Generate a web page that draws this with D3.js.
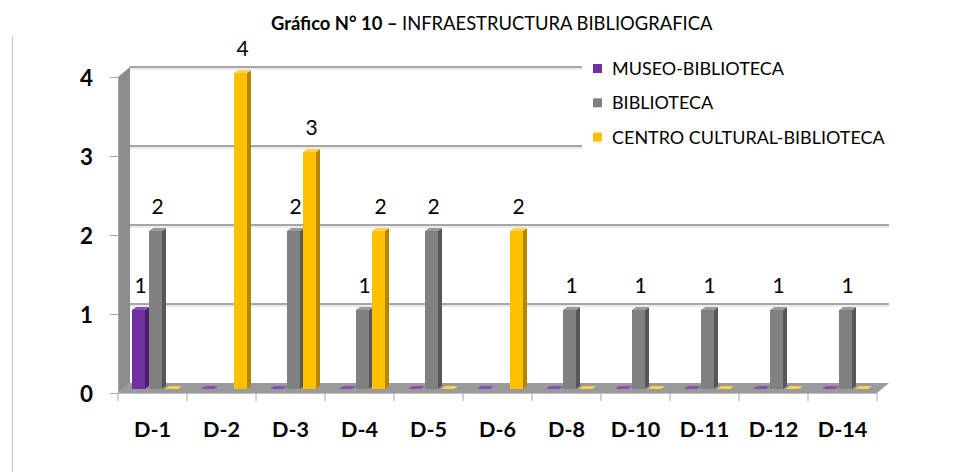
<!DOCTYPE html>
<meta charset="utf-8">
<script src="https://d3js.org/d3.v7.min.js"></script>
<style>
body { margin: 0; background: #fff; }
text { font-family: Lato, "Open Sans", sans-serif; }
</style>
<body>
<script>

// data
var categories = ["D-1", "D-2", "D-3", "D-4", "D-5", "D-6", "D-8", "D-10", "D-11", "D-12", "D-14"];
var seriesNames = ["MUSEO-BIBLIOTECA", "BIBLIOTECA", "CENTRO CULTURAL-BIBLIOTECA"];
var museo      = [1, 0, 0, 0, 0, 0, 0, 0, 0, 0, 0];
var biblioteca = [2, 0, 2, 1, 2, 0, 1, 1, 1, 1, 1];
var centro     = [0, 4, 3, 2, 0, 2, 0, 0, 0, 0, 0];
var yTicks = [0, 1, 2, 3, 4];

var colors = ["#7030a0", "#808080", "#ffc000"];
var sideColors = ["#4a1f6b", "#575757", "#b38600"];
var topColors = ["#8a4dba", "#9a9a9a", "#ffd24d"];

var width = 953, height = 472;
var dx = 12, dy = -10;   // 3d depth offset

var svg = d3.select("body").append("svg")
  .attr("width", width)
  .attr("height", height);

// scale a text's font so it spans the wanted width (Calibri isn't available)
function fitWidth(sel, target) {
  var w = sel.node().getComputedTextLength();
  var fs = parseFloat(sel.style("font-size"));
  sel.style("font-size", (fs * target / w) + "px");
}

var xScale = d3.scaleBand()
  .domain(categories)
  .range([118, 877]);

var yScale = d3.scaleLinear()
  .domain([0, 4])
  .range([393, 77]);

// chart border line on the left
svg.append("line")
  .attr("x1", 12.5).attr("x2", 12.5)
  .attr("y1", 37).attr("y2", 472)
  .attr("stroke", "#bfbfbf");

// title
var title = svg.append("text")
  .attr("x", 271)
  .attr("y", 30)
  .style("font-size", "16px");
title.append("tspan").style("font-weight", "bold").text("Gráfico N° 10 – ");
title.append("tspan").text("INFRAESTRUCTURA BIBLIOGRAFICA");
fitWidth(title, 442);

var x0 = xScale.range()[0], x1 = xScale.range()[1];

// left wall
svg.append("path")
  .attr("d", d3.line()([[x0, yScale(0)], [x0, yScale(4)], [x0 + dx, yScale(4) + dy], [x0 + dx, yScale(0) + dy]]))
  .attr("fill", "#8c8c8c");

// floor
svg.append("path")
  .attr("d", d3.line()([[x0, yScale(0)], [x1, yScale(0)], [x1 + dx, yScale(0) + dy], [x0 + dx, yScale(0) + dy]]))
  .attr("fill", "#9a9a9a");

// back wall gridlines
var gridVals = yTicks.filter(function(d) { return d > 0; });
svg.selectAll(".gridshadow")
  .data(gridVals)
  .enter().append("line")
  .attr("class", "gridshadow")
  .attr("x1", x0 + dx)
  .attr("x2", x1 + dx)
  .attr("y1", function(d) { return yScale(d) + dy + 2; })
  .attr("y2", function(d) { return yScale(d) + dy + 2; })
  .attr("stroke", "#e3e3e3")
  .attr("stroke-width", 1.5);
svg.selectAll(".grid")
  .data(gridVals)
  .enter().append("line")
  .attr("class", "grid")
  .attr("x1", x0 + dx)
  .attr("x2", x1 + dx)
  .attr("y1", function(d) { return yScale(d) + dy; })
  .attr("y2", function(d) { return yScale(d) + dy; })
  .attr("stroke", "#a6a6a6")
  .attr("stroke-width", 2);

// y axis
var yAxis = d3.axisLeft(yScale).tickValues(yTicks).tickSize(8).tickFormat(d3.format("d"));
var yAxisGroup = svg.append("g")
  .attr("transform", "translate(" + x0 + ",0)")
  .call(yAxis);
yAxisGroup.select(".domain").attr("stroke", "#a6a6a6");
yAxisGroup.selectAll(".tick line").attr("stroke", "#a6a6a6");
yAxisGroup.selectAll("text")
  .attr("x", -25)
  .attr("dy", "0.36em")
  .style("font-size", "20px")
  .style("font-weight", "bold")
  .attr("fill", "#000");
fitWidth(yAxisGroup.select(".tick:last-of-type text"), 13);
yAxisGroup.selectAll("text").style("font-size", yAxisGroup.select(".tick:last-of-type text").style("font-size"));

// x axis
var xAxis = d3.axisBottom(xScale).tickSize(0);
var xAxisGroup = svg.append("g")
  .attr("transform", "translate(0," + yScale(0) + ")")
  .call(xAxis);
xAxisGroup.select(".domain").attr("stroke", "#bfbfbf");
xAxisGroup.selectAll("text")
  .attr("y", 36)
  .attr("dy", "0.36em")
  .style("font-size", "20px")
  .style("font-weight", "bold")
  .attr("fill", "#000");
var firstX = xAxisGroup.select(".tick text");
fitWidth(firstX, 37);
xAxisGroup.selectAll("text").style("font-size", firstX.style("font-size"));
svg.selectAll(".xtick")
  .data(categories.concat(["end"]))
  .enter().append("line")
  .attr("class", "xtick")
  .attr("x1", function(d, i) { return x0 + i * xScale.step(); })
  .attr("x2", function(d, i) { return x0 + i * xScale.step(); })
  .attr("y1", yScale(0))
  .attr("y2", yScale(0) + 8)
  .attr("stroke", "#a6a6a6");

// bars
var seriesValues = [museo, biblioteca, centro];
var offsets = [14, 31, 47];
var barW = 13, sdx = 4, sdy = -3, baseShift = -4;

var barData = [];
seriesValues.forEach(function(vals, s) {
  vals.forEach(function(v, i) {
    barData.push({ cat: categories[i], value: v, s: s });
  });
});

var bars = svg.selectAll(".bar")
  .data(barData)
  .enter().append("g")
  .attr("class", "bar");

function bx(d) { return xScale(d.cat) + offsets[d.s]; }
function by0() { return yScale(0) + baseShift; }
function by1(d) { return yScale(d.value) + baseShift; }

// front face
bars.append("rect")
  .attr("x", bx)
  .attr("y", by1)
  .attr("width", barW)
  .attr("height", function(d) { return by0() - by1(d); })
  .attr("fill", function(d) { return colors[d.s]; });

// side face
bars.append("path")
  .attr("d", function(d) {
    var x = bx(d) + barW;
    return d3.line()([[x, by1(d)], [x + sdx, by1(d) + sdy], [x + sdx, by0() + sdy], [x, by0()]]);
  })
  .attr("fill", function(d) { return sideColors[d.s]; });

// top face
bars.append("path")
  .attr("d", function(d) {
    var x = bx(d), y = by1(d);
    return d3.line()([[x, y], [x + barW, y], [x + barW + sdx, y + sdy], [x + sdx, y + sdy]]);
  })
  .attr("fill", function(d) { return topColors[d.s]; });

// value labels
svg.selectAll(".label")
  .data(barData.filter(function(d) { return d.value > 0; }))
  .enter().append("text")
  .attr("class", "label")
  .attr("x", function(d) { return bx(d) + (barW + sdx) / 2; })
  .attr("y", function(d) { return by1(d) - 17; })
  .attr("text-anchor", "middle")
  .style("font-size", "21px")
  .text(function(d) { return d.value; });

// legend
var legend = svg.append("g").attr("transform", "translate(582,50)");
legend.append("rect")
  .attr("width", 318).attr("height", 104)
  .attr("fill", "#fff");
var items = legend.selectAll(".item")
  .data(seriesNames)
  .enter().append("g")
  .attr("transform", function(d, i) { return "translate(11," + (18.5 + i * 34.3) + ")"; });
items.append("rect")
  .attr("x", 0).attr("y", -4.5)
  .attr("width", 9).attr("height", 9)
  .attr("fill", function(d, i) { return colors[i]; });
var legendText = items.append("text")
  .attr("x", 19)
  .attr("dy", "0.36em")
  .style("font-size", "17px")
  .text(function(d) { return d; });
var longest = legendText.filter(function(d, i) { return i === 2; });
fitWidth(longest, 273);
legendText.style("font-size", longest.style("font-size"));

</script>
</body>
